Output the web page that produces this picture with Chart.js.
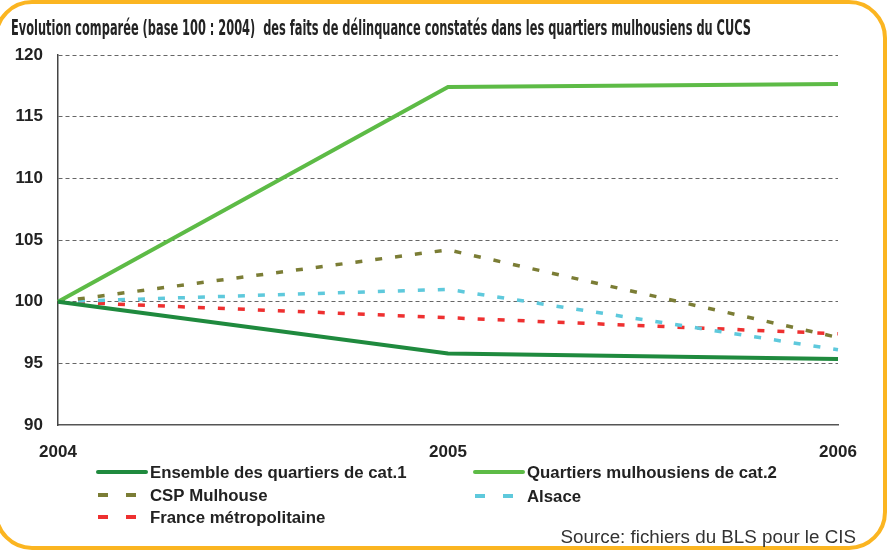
<!DOCTYPE html>
<html>
<head>
<meta charset="utf-8">
<script src="https://cdn.jsdelivr.net/npm/chart.js@4"></script>
<style>
    body { margin: 0; background: #fff; }
    #wrap { position: relative; width: 891px; height: 551px; overflow: hidden; }
    #frame {
        position: absolute; left: -6px; top: 0px; width: 885px; height: 542px;
        border: 4px solid #fbb521; border-radius: 38px;
    }
    #chart { position: absolute; left: 0; top: 0; }
</style>
</head>
<body>
<div id="wrap">
    <div id="frame"></div>
    <canvas id="chart" width="891" height="551"></canvas>
</div>
<script>
const years = ['2004', '2005', '2006'];
const ensembleCat1 = [100, 95.8, 95.35];
const quartiersCat2 = [100, 117.4, 117.65];
const cspMulhouse = [100, 104.2, 97.1];
const alsace = [100, 101.0, 96.1];
const franceMetro = [100, 98.7, 97.4];

const titleText = 'Evolution comparée (base 100 : 2004)  des faits de délinquance constatés dans les quartiers mulhousiens du CUCS';
const sourceText = 'Source: fichiers du BLS pour le CIS';

// legend position for each dataset (column x, row y)
const legendSlots = [
    { x: 98, y: 472 },
    { x: 475, y: 472 },
    { x: 98, y: 495 },
    { x: 475, y: 496 },
    { x: 98, y: 517 }
];

const decorPlugin = {
    id: 'decor',
    afterDraw(chart) {
        const ctx = chart.ctx;
        ctx.save();
        // title, squeezed to look condensed
        ctx.fillStyle = '#232323';
        ctx.font = 'bold 22px "DejaVu Sans Condensed"';
        ctx.textBaseline = 'alphabetic';
        ctx.textAlign = 'left';
        ctx.fillText(titleText, 11, 35, 740);

        // legend
        chart.data.datasets.forEach((ds, i) => {
            const s = legendSlots[i];
            ctx.strokeStyle = ds.borderColor;
            ctx.lineWidth = 4;
            ctx.lineCap = ds.borderDash ? 'butt' : 'round';
            ctx.setLineDash(ds.borderDash ? [10, 18] : []);
            ctx.beginPath();
            ctx.moveTo(s.x, s.y);
            ctx.lineTo(s.x + 48, s.y);
            ctx.stroke();
            ctx.setLineDash([]);
            ctx.fillStyle = '#222';
            ctx.font = 'bold 16.8px "Liberation Sans"';
            ctx.textBaseline = 'middle';
            ctx.fillText(ds.label, s.x + 52, s.y + 1);
        });

        // source
        ctx.font = '18.8px "Liberation Sans"';
        ctx.textAlign = 'right';
        ctx.textBaseline = 'alphabetic';
        ctx.fillStyle = '#333';
        ctx.fillText(sourceText, 856, 543);
        ctx.restore();
    }
};

new Chart(document.getElementById('chart'), {
    type: 'line',
    data: {
        labels: years,
        datasets: [
            { label: 'Ensemble des quartiers de cat.1', data: ensembleCat1, borderColor: '#1f8a3e', borderWidth: 4 },
            { label: 'Quartiers mulhousiens de cat.2', data: quartiersCat2, borderColor: '#5dbb46', borderWidth: 4 },
            { label: 'CSP Mulhouse', data: cspMulhouse, borderColor: '#7b7d35', borderWidth: 3.5, borderDash: [7, 13] },
            { label: 'Alsace', data: alsace, borderColor: '#5ec9dc', borderWidth: 3.5, borderDash: [7, 13] },
            { label: 'France métropolitaine', data: franceMetro, borderColor: '#ee3030', borderWidth: 3.5, borderDash: [7, 13] }
        ]
    },
    options: {
        responsive: false,
        animation: false,
        layout: { padding: { left: 0, top: 55, right: 53, bottom: 86 } },
        elements: { point: { radius: 0 }, line: { tension: 0, fill: false } },
        plugins: {
            legend: { display: false },
            title: { display: false },
            tooltip: { enabled: false }
        },
        scales: {
            x: {
                offset: false,
                grid: { display: false, drawTicks: false },
                border: { color: '#555', width: 1.5 },
                ticks: { color: '#222', font: { family: 'Liberation Sans', size: 17, weight: 'bold' }, padding: 17, maxRotation: 0 },
                afterFit: s => { s.height = 40; }
            },
            y: {
                min: 90,
                max: 120,
                ticks: { stepSize: 5, color: '#222', font: { family: 'Liberation Sans', size: 17, weight: 'bold' }, padding: 15 },
                grid: {
                    color: ctx => ctx.tick.value === 90 ? 'rgba(0,0,0,0)' : '#666',
                    drawTicks: false,
                    lineWidth: 1
                },
                border: { color: '#444', width: 1.5, dash: [4, 3] },
                afterFit: s => { s.width = 58; }
            }
        }
    },
    plugins: [decorPlugin]
});
</script>
</body>
</html>
